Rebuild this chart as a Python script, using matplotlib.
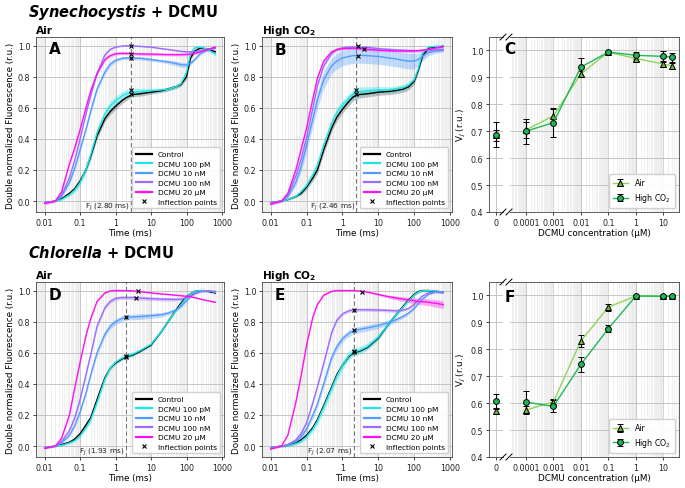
import numpy as np
import matplotlib
matplotlib.use("Agg")
import matplotlib.pyplot as plt
from matplotlib.ticker import LogLocator, FixedLocator, FixedFormatter, NullFormatter
from matplotlib.lines import Line2D

# ---------------- data ----------------
time_ms = [0.01, 0.02, 0.03, 0.05, 0.07, 0.1, 0.15, 0.2, 0.3, 0.5, 0.7, 1, 1.5, 2, 3, 5,
           10, 20, 30, 50, 70, 100, 130, 170, 250, 400, 650]

treatments = ["Control", "DCMU 100 pM", "DCMU 10 nM", "DCMU 100 nM", "DCMU 20 µM"]
colors = ["#000000", "#1fe6e6", "#559bff", "#9b6cff", "#ff10f0"]
band_colors = ["#555555", "#1fe6e6", "#559bff", "#9b6cff", "#ff10f0"]

# Synechocystis, Air (panel A)
syn_air_control = [-0.01, 0.0, 0.015, 0.05, 0.08, 0.13, 0.21, 0.29, 0.42, 0.53, 0.575, 0.61, 0.645, 0.665, 0.685, 0.69,
                   0.70, 0.71, 0.72, 0.735, 0.75, 0.80, 0.92, 0.965, 0.985, 0.975, 0.96]
syn_air_100pM = [-0.01, 0.0, 0.01, 0.04, 0.07, 0.12, 0.21, 0.30, 0.44, 0.56, 0.61, 0.645, 0.675, 0.69, 0.70, 0.705,
                 0.71, 0.715, 0.72, 0.735, 0.755, 0.83, 0.95, 0.985, 0.99, 0.975, 0.945]
syn_air_10nM = [-0.01, 0.0, 0.03, 0.12, 0.21, 0.33, 0.47, 0.58, 0.72, 0.83, 0.88, 0.905, 0.918, 0.92, 0.92, 0.918,
                0.91, 0.90, 0.895, 0.885, 0.877, 0.875, 0.885, 0.91, 0.95, 0.975, 0.985]
syn_air_100nM = [-0.01, 0.0, 0.04, 0.15, 0.26, 0.40, 0.57, 0.68, 0.82, 0.94, 0.975, 0.99, 0.997, 0.998, 0.998, 0.995,
                 0.99, 0.98, 0.975, 0.968, 0.963, 0.96, 0.96, 0.962, 0.967, 0.975, 0.985]
syn_air_20uM = [-0.015, 0.0, 0.06, 0.24, 0.34, 0.46, 0.61, 0.71, 0.82, 0.91, 0.935, 0.948, 0.95, 0.95, 0.948, 0.946,
                0.945, 0.943, 0.942, 0.942, 0.942, 0.943, 0.945, 0.95, 0.96, 0.975, 0.99]
syn_air_control_sd = [0, 0, 0.003, 0.006, 0.01, 0.012, 0.016, 0.02, 0.02, 0.02, 0.02, 0.02, 0.02, 0.018, 0.015, 0.015,
                      0.012, 0.012, 0.012, 0.012, 0.012, 0.015, 0.015, 0.01, 0.01, 0.01, 0.01]
syn_air_100pM_sd = [0, 0, 0.005, 0.01, 0.015, 0.02, 0.025, 0.03, 0.03, 0.03, 0.03, 0.03, 0.03, 0.028, 0.025, 0.02,
                    0.015, 0.012, 0.012, 0.012, 0.012, 0.015, 0.015, 0.01, 0.01, 0.01, 0.012]
syn_air_10nM_sd = [0, 0, 0.005, 0.01, 0.012, 0.015, 0.015, 0.015, 0.015, 0.015, 0.012, 0.01, 0.01, 0.01, 0.01, 0.01,
                   0.01, 0.01, 0.012, 0.015, 0.015, 0.015, 0.012, 0.01, 0.01, 0.01, 0.01]
syn_air_100nM_sd = 0.004
syn_air_20uM_sd = 0.008

# Synechocystis, High CO2 (panel B)
syn_hc_control = [-0.01, 0.0, 0.01, 0.03, 0.05, 0.09, 0.15, 0.20, 0.33, 0.47, 0.54, 0.59, 0.64, 0.67, 0.685, 0.69,
                  0.70, 0.705, 0.71, 0.72, 0.735, 0.77, 0.84, 0.93, 0.985, 0.99, 0.995]
syn_hc_100pM = [-0.01, 0.0, 0.01, 0.03, 0.06, 0.10, 0.17, 0.23, 0.36, 0.50, 0.57, 0.62, 0.66, 0.69, 0.705, 0.71,
                0.715, 0.715, 0.72, 0.73, 0.745, 0.78, 0.85, 0.95, 0.99, 0.995, 0.995]
syn_hc_10nM = [-0.01, 0.0, 0.03, 0.12, 0.22, 0.36, 0.53, 0.65, 0.78, 0.87, 0.90, 0.92, 0.93, 0.935, 0.937, 0.935,
               0.93, 0.92, 0.915, 0.905, 0.90, 0.90, 0.91, 0.93, 0.955, 0.965, 0.97]
syn_hc_100nM = [-0.01, 0.0, 0.04, 0.16, 0.27, 0.41, 0.60, 0.74, 0.87, 0.95, 0.975, 0.985, 0.99, 0.99, 0.99, 0.988,
                0.98, 0.975, 0.972, 0.97, 0.968, 0.967, 0.967, 0.968, 0.97, 0.972, 0.975]
syn_hc_20uM = [-0.02, 0.0, 0.05, 0.20, 0.33, 0.47, 0.66, 0.79, 0.90, 0.96, 0.975, 0.98, 0.982, 0.983, 0.98, 0.975,
               0.97, 0.967, 0.966, 0.965, 0.965, 0.966, 0.968, 0.97, 0.975, 0.985, 0.995]
syn_hc_control_sd = [0, 0, 0.003, 0.006, 0.01, 0.015, 0.02, 0.025, 0.025, 0.025, 0.025, 0.025, 0.025, 0.025, 0.022, 0.02,
                     0.02, 0.02, 0.02, 0.02, 0.02, 0.02, 0.02, 0.015, 0.01, 0.008, 0.008]
syn_hc_100pM_sd = [0, 0, 0.005, 0.01, 0.015, 0.02, 0.025, 0.03, 0.03, 0.03, 0.03, 0.03, 0.03, 0.03, 0.03, 0.025,
                   0.022, 0.02, 0.02, 0.02, 0.02, 0.02, 0.02, 0.015, 0.01, 0.008, 0.008]
syn_hc_10nM_sd = [0, 0, 0.01, 0.02, 0.03, 0.04, 0.05, 0.055, 0.055, 0.05, 0.05, 0.05, 0.05, 0.05, 0.05, 0.05,
                  0.05, 0.05, 0.05, 0.05, 0.05, 0.05, 0.04, 0.03, 0.02, 0.015, 0.012]
syn_hc_100nM_sd = 0.01
syn_hc_20uM_sd = 0.006

# Chlorella, Air (panel D)
chl_air_control = [-0.01, 0.0, 0.01, 0.025, 0.045, 0.08, 0.14, 0.185, 0.30, 0.44, 0.50, 0.535, 0.56, 0.575, 0.585, 0.61,
                   0.65, 0.74, 0.80, 0.875, 0.92, 0.96, 0.98, 0.995, 1.0, 0.995, 0.985]
chl_air_100pM = [-0.01, 0.0, 0.005, 0.02, 0.035, 0.065, 0.12, 0.17, 0.28, 0.43, 0.50, 0.54, 0.565, 0.578, 0.59, 0.615,
                 0.655, 0.74, 0.80, 0.87, 0.91, 0.955, 0.98, 0.995, 1.0, 0.998, 0.99]
chl_air_10nM = [-0.01, 0.0, 0.02, 0.07, 0.13, 0.22, 0.35, 0.46, 0.60, 0.72, 0.77, 0.80, 0.82, 0.828, 0.83, 0.833,
                0.838, 0.845, 0.855, 0.875, 0.90, 0.935, 0.96, 0.98, 0.995, 0.998, 0.99]
chl_air_100nM = [-0.01, 0.0, 0.03, 0.10, 0.18, 0.30, 0.47, 0.59, 0.77, 0.89, 0.93, 0.95, 0.955, 0.955, 0.955, 0.952,
                 0.948, 0.945, 0.944, 0.943, 0.945, 0.955, 0.967, 0.98, 0.993, 0.998, 0.995]
chl_air_20uM = [-0.015, 0.0, 0.05, 0.20, 0.37, 0.54, 0.72, 0.82, 0.93, 0.985, 0.997, 1.0, 1.0, 1.0, 0.998, 0.993,
                0.985, 0.978, 0.975, 0.97, 0.967, 0.963, 0.96, 0.955, 0.945, 0.935, 0.925]
chl_air_control_sd = 0.006
chl_air_100pM_sd = [0, 0, 0.003, 0.006, 0.008, 0.01, 0.012, 0.014, 0.015, 0.015, 0.015, 0.015, 0.015, 0.015, 0.015, 0.012,
                    0.01, 0.01, 0.01, 0.01, 0.01, 0.008, 0.006, 0.005, 0.005, 0.005, 0.005]
chl_air_10nM_sd = [0, 0, 0.004, 0.008, 0.01, 0.012, 0.015, 0.016, 0.018, 0.018, 0.018, 0.018, 0.018, 0.018, 0.018, 0.018,
                   0.016, 0.015, 0.012, 0.01, 0.01, 0.008, 0.006, 0.005, 0.005, 0.005, 0.005]
chl_air_100nM_sd = [0, 0, 0.004, 0.008, 0.01, 0.012, 0.012, 0.012, 0.012, 0.012, 0.012, 0.012, 0.012, 0.012, 0.012, 0.012,
                    0.012, 0.012, 0.012, 0.01, 0.008, 0.006, 0.005, 0.005, 0.004, 0.004, 0.004]
chl_air_20uM_sd = 0.003

# Chlorella, High CO2 (panel E)
chl_hc_control = [-0.01, 0.0, 0.005, 0.02, 0.04, 0.07, 0.12, 0.17, 0.26, 0.38, 0.46, 0.52, 0.575, 0.60, 0.61, 0.635,
                  0.695, 0.79, 0.84, 0.90, 0.94, 0.975, 0.993, 1.0, 1.0, 0.995, 0.99]
chl_hc_100pM = [-0.01, 0.0, 0.003, 0.015, 0.03, 0.06, 0.11, 0.16, 0.25, 0.37, 0.45, 0.52, 0.58, 0.605, 0.615, 0.64,
                0.70, 0.79, 0.84, 0.895, 0.935, 0.97, 0.99, 0.998, 1.0, 0.998, 0.99]
chl_hc_10nM = [-0.01, 0.0, 0.01, 0.03, 0.06, 0.11, 0.20, 0.27, 0.40, 0.57, 0.64, 0.69, 0.725, 0.74, 0.75, 0.76,
               0.775, 0.795, 0.81, 0.835, 0.855, 0.885, 0.915, 0.945, 0.975, 0.99, 0.985]
chl_hc_100nM = [-0.01, 0.0, 0.01, 0.04, 0.08, 0.15, 0.28, 0.38, 0.53, 0.73, 0.81, 0.85, 0.87, 0.875, 0.877, 0.877,
                0.875, 0.872, 0.87, 0.875, 0.885, 0.91, 0.94, 0.965, 0.985, 0.993, 0.99]
chl_hc_20uM = [-0.02, 0.0, 0.07, 0.28, 0.45, 0.65, 0.83, 0.91, 0.97, 0.995, 1.0, 1.0, 1.0, 1.0, 0.997, 0.99,
               0.975, 0.96, 0.953, 0.945, 0.94, 0.935, 0.93, 0.928, 0.925, 0.918, 0.91]
chl_hc_control_sd = 0.008
chl_hc_100pM_sd = [0, 0, 0.003, 0.006, 0.01, 0.014, 0.02, 0.024, 0.028, 0.03, 0.03, 0.03, 0.03, 0.028, 0.025, 0.022,
                   0.02, 0.015, 0.012, 0.01, 0.008, 0.006, 0.005, 0.005, 0.005, 0.005, 0.005]
chl_hc_10nM_sd = [0, 0, 0.004, 0.008, 0.012, 0.016, 0.02, 0.022, 0.022, 0.022, 0.022, 0.022, 0.02, 0.02, 0.02, 0.02,
                  0.018, 0.016, 0.015, 0.012, 0.01, 0.008, 0.006, 0.005, 0.005, 0.005, 0.005]
chl_hc_100nM_sd = [0, 0, 0.003, 0.006, 0.008, 0.01, 0.01, 0.01, 0.01, 0.01, 0.01, 0.01, 0.01, 0.01, 0.01, 0.01,
                   0.01, 0.01, 0.01, 0.008, 0.006, 0.005, 0.005, 0.005, 0.004, 0.004, 0.004]
chl_hc_20uM_sd = [0, 0, 0.002, 0.003, 0.003, 0.003, 0.003, 0.003, 0.003, 0.003, 0.003, 0.003, 0.003, 0.003, 0.003, 0.004,
                  0.006, 0.01, 0.012, 0.015, 0.017, 0.018, 0.02, 0.02, 0.022, 0.024, 0.025]

# J-step time and inflection points
syn_air_fj, syn_hc_fj, chl_air_fj, chl_hc_fj = 2.80, 2.46, 1.93, 2.07
syn_air_inf_t = [2.8, 2.8, 2.8, 2.7, 2.7]
syn_air_inf_v = [0.688, 0.712, 0.918, 0.998, 0.946]
syn_hc_inf_t = [2.46, 2.46, 2.8, 2.7, 3.9]
syn_hc_inf_v = [0.69, 0.715, 0.935, 0.995, 0.978]
chl_air_inf_t = [1.93, 1.93, 1.93, 3.8, 4.3]
chl_air_inf_v = [0.575, 0.578, 0.828, 0.955, 0.994]
chl_hc_inf_t = [2.07, 2.07, 2.07, 2.07, 3.5]
chl_hc_inf_v = [0.605, 0.61, 0.745, 0.877, 0.992]

# V_J vs DCMU concentration (first value = 0 µM)
conc_uM = [0, 0.0001, 0.001, 0.01, 0.1, 1, 10, 20]
conc_ticks = [0.0001, 0.001, 0.01, 0.1, 1, 10]
conc_ticklabels = ["0.0001", "0.001", "0.01", "0.1", "1", "10"]
syn_vj_air = [0.685, 0.705, 0.757, 0.913, 0.994, 0.970, 0.950, 0.943]
syn_vj_air_err = [0.02, 0.03, 0.025, 0.012, 0.005, 0.01, 0.01, 0.012]
syn_vj_hc = [0.687, 0.700, 0.732, 0.938, 0.994, 0.982, 0.978, 0.975]
syn_vj_hc_err = [0.047, 0.047, 0.055, 0.033, 0.005, 0.012, 0.02, 0.016]
chl_vj_air = [0.570, 0.574, 0.605, 0.831, 0.957, 0.998, 0.997, 0.997]
chl_vj_air_err = [0.01, 0.015, 0.012, 0.022, 0.013, 0.004, 0.004, 0.004]
chl_vj_hc = [0.608, 0.604, 0.588, 0.744, 0.877, 0.998, 0.997, 0.997]
chl_vj_hc_err = [0.025, 0.04, 0.022, 0.028, 0.014, 0.004, 0.004, 0.004]

# ---------------- styling ----------------
W, H = 685, 489
TICK_FS = 5.8
LABEL_FS = 6.3
LEG_FS = 5.3
TITLE_FS = 7.6
SUP_FS = 10.5
LET_FS = 11
AIR_C = "#8fd45a"
HC_C = "#1db954"
MINOR_C = "#e3e3e3"

fig = plt.figure(figsize=(W / 100, H / 100), dpi=100)


def rect(l, t, r, b):
    return [l / W, 1 - b / H, (r - l) / W, (b - t) / H]


def style_axes(ax):
    for s in ax.spines.values():
        s.set_color("#444444")
        s.set_linewidth(0.6)
    ax.tick_params(labelsize=TICK_FS, length=2.5, width=0.6, pad=1.5, colors="#222222")
    ax.tick_params(which="minor", length=0)
    ax.set_axisbelow(True)


def kinetics(ax, curves, sds, fj, inf_t, inf_v, title):
    t = np.array(time_ms)
    for y, sd, c, bc, lab in zip(curves, sds, colors, band_colors, treatments):
        y = np.array(y, dtype=float)
        sd = np.broadcast_to(np.array(sd, dtype=float), y.shape)
        ax.fill_between(t, y - sd, y + sd, color=bc, alpha=0.35, lw=0)
        ax.plot(t, y, color=c, lw=1.0, label=lab)
    ax.axvline(fj, color="#777777", ls="--", lw=0.8, dashes=(4, 2.5))
    ax.plot(inf_t, inf_v, ls="none", marker="x", color="k", ms=3.5, mew=0.8,
            label="Inflection points", zorder=5)
    ax.set_xscale("log")
    ax.set_xlim(0.0057, 1140)
    ax.set_ylim(-0.07, 1.055)
    ax.xaxis.set_major_locator(FixedLocator([0.01, 0.1, 1, 10, 100, 1000]))
    ax.xaxis.set_major_formatter(FixedFormatter(["0.01", "0.1", "1", "10", "100", "1000"]))
    ax.xaxis.set_minor_locator(LogLocator(base=10, subs=np.arange(1.5, 10, 0.5), numticks=200))
    ax.xaxis.set_minor_formatter(NullFormatter())
    ax.set_yticks([0.0, 0.2, 0.4, 0.6, 0.8, 1.0])
    ax.set_yticklabels(["0.0", "0.2", "0.4", "0.6", "0.8", "1.0"])
    ax.grid(True, which="major", color="#bdbdbd", lw=0.6)
    ax.grid(True, which="minor", axis="x", color=MINOR_C, lw=0.4)
    style_axes(ax)
    ax.set_xlabel("Time (ms)", fontsize=LABEL_FS, labelpad=1)
    ax.set_ylabel("Double normalized Fluorescence (r.u.)", fontsize=LABEL_FS, labelpad=2)
    ax.set_title(title, loc="left", fontsize=TITLE_FS, fontweight="bold", pad=3)
    ax.text(fj * 0.9, -0.035, r"F$_J$ (%.2f ms)" % fj, ha="right", va="center",
            fontsize=LEG_FS, color="#222222")
    leg = ax.legend(loc="lower right", fontsize=LEG_FS, handlelength=2.2, borderpad=0.5,
                    labelspacing=0.45, framealpha=0.9, edgecolor="#cccccc", fancybox=True)
    for h in leg.get_lines():
        if h.get_marker() in (None, "None", ""):
            h.set_linewidth(1.6)


def vj_panel(ax0, ax1, air, air_err, hc, hc_err):
    for ax in (ax0, ax1):
        ax.set_ylim(0.4, 1.05)
        ax.set_yticks([0.4, 0.5, 0.6, 0.7, 0.8, 0.9, 1.0])
        ax.grid(True, which="major", color="#bdbdbd", lw=0.6)
        style_axes(ax)
    ekw = dict(ecolor="k", elinewidth=0.8, capsize=2, capthick=0.8)
    # zero concentration
    ax0.errorbar([conc_uM[0]], [air[0]], yerr=[air_err[0]], color=AIR_C, marker="^", ms=4,
                 mfc="#6fae3c", mec="k", mew=0.7, ls="none", **ekw)
    ax0.errorbar([conc_uM[0]], [hc[0]], yerr=[hc_err[0]], color=HC_C, marker="o", ms=4.2,
                 mfc=HC_C, mec="k", mew=0.7, ls="none", **ekw)
    ax0.set_xlim(-1, 1)
    ax0.set_xticks([0])
    ax0.set_xticklabels(["0"])
    ax0.set_yticklabels(["0.4", "0.5", "0.6", "0.7", "0.8", "0.9", "1.0"])
    ax0.grid(True, axis="x", color="#bdbdbd", lw=0.6)
    ax0.spines["right"].set_visible(False)
    ax0.set_ylabel(r"V$_J$ (r.u.)", fontsize=LABEL_FS, labelpad=2)
    # non-zero concentrations
    ax1.errorbar(conc_uM[1:], air[1:], yerr=air_err[1:], color=AIR_C, lw=1.0, marker="^", ms=4,
                 mfc="#6fae3c", mec="k", mew=0.7, label="Air", **ekw)
    ax1.errorbar(conc_uM[1:], hc[1:], yerr=hc_err[1:], color=HC_C, lw=1.0, marker="o", ms=4.2,
                 mfc=HC_C, mec="k", mew=0.7, label=r"High CO$_2$", **ekw)
    ax1.set_xscale("log")
    ax1.set_xlim(10 ** -4.58, 10 ** 1.57)
    ax1.xaxis.set_major_locator(FixedLocator(conc_ticks))
    ax1.xaxis.set_major_formatter(FixedFormatter(conc_ticklabels))
    ax1.xaxis.set_minor_locator(LogLocator(base=10, subs=np.arange(1.5, 10, 0.5), numticks=200))
    ax1.xaxis.set_minor_formatter(NullFormatter())
    ax1.grid(True, which="minor", axis="x", color=MINOR_C, lw=0.4)
    ax1.spines["left"].set_visible(False)
    ax1.tick_params(axis="y", left=False, labelleft=False)
    ax1.set_xlabel("DCMU concentration (µM)", fontsize=LABEL_FS, labelpad=1)
    ax1.legend(loc="lower right", fontsize=LEG_FS + 0.3, handlelength=2.0, borderpad=0.5,
               labelspacing=0.5, framealpha=0.9, edgecolor="#cccccc")


def break_marks(xs, ys):
    for x in xs:
        for y in ys:
            fig.add_artist(Line2D([(x - 3) / W, (x + 3) / W], [1 - (y + 3) / H, 1 - (y - 3) / H],
                                  transform=fig.transFigure, color="k", lw=0.7, clip_on=False))


# ---------------- layout ----------------
top_row = (38, 213)
bot_row = (283, 458)

axA = fig.add_axes(rect(36, top_row[0], 224, top_row[1]))
axB = fig.add_axes(rect(262, top_row[0], 452, top_row[1]))
axC0 = fig.add_axes(rect(489, top_row[0], 503, top_row[1]))
axC1 = fig.add_axes(rect(510, top_row[0], 679, top_row[1]))
axD = fig.add_axes(rect(36, bot_row[0], 224, bot_row[1]))
axE = fig.add_axes(rect(262, bot_row[0], 452, bot_row[1]))
axF0 = fig.add_axes(rect(489, bot_row[0], 503, bot_row[1]))
axF1 = fig.add_axes(rect(510, bot_row[0], 679, bot_row[1]))

kinetics(axA, [syn_air_control, syn_air_100pM, syn_air_10nM, syn_air_100nM, syn_air_20uM],
         [syn_air_control_sd, syn_air_100pM_sd, syn_air_10nM_sd, syn_air_100nM_sd, syn_air_20uM_sd],
         syn_air_fj, syn_air_inf_t, syn_air_inf_v, "Air")
kinetics(axB, [syn_hc_control, syn_hc_100pM, syn_hc_10nM, syn_hc_100nM, syn_hc_20uM],
         [syn_hc_control_sd, syn_hc_100pM_sd, syn_hc_10nM_sd, syn_hc_100nM_sd, syn_hc_20uM_sd],
         syn_hc_fj, syn_hc_inf_t, syn_hc_inf_v, r"High CO$_\mathbf{2}$")
kinetics(axD, [chl_air_control, chl_air_100pM, chl_air_10nM, chl_air_100nM, chl_air_20uM],
         [chl_air_control_sd, chl_air_100pM_sd, chl_air_10nM_sd, chl_air_100nM_sd, chl_air_20uM_sd],
         chl_air_fj, chl_air_inf_t, chl_air_inf_v, "Air")
kinetics(axE, [chl_hc_control, chl_hc_100pM, chl_hc_10nM, chl_hc_100nM, chl_hc_20uM],
         [chl_hc_control_sd, chl_hc_100pM_sd, chl_hc_10nM_sd, chl_hc_100nM_sd, chl_hc_20uM_sd],
         chl_hc_fj, chl_hc_inf_t, chl_hc_inf_v, r"High CO$_\mathbf{2}$")
vj_panel(axC0, axC1, syn_vj_air, syn_vj_air_err, syn_vj_hc, syn_vj_hc_err)
vj_panel(axF0, axF1, chl_vj_air, chl_vj_air_err, chl_vj_hc, chl_vj_hc_err)

break_marks([503, 509], [top_row[0], top_row[1]])
break_marks([503, 509], [bot_row[0], bot_row[1]])

# panel letters
for lx, ly, s in [(49, 50, "A"), (275, 51, "B"), (504, 50, "C"),
                  (49, 296, "D"), (275, 296, "E"), (505, 297, "F")]:
    fig.text(lx / W, 1 - ly / H, s, fontsize=LET_FS, fontweight="bold", ha="left", va="center")

# row headings
fig.text(28 / W, 1 - 12 / H, r"$\mathbfit{Synechocystis}$ + DCMU", fontsize=SUP_FS,
         fontweight="bold", ha="left", va="center")
fig.text(28 / W, 1 - 253 / H, r"$\mathbfit{Chlorella}$ + DCMU", fontsize=SUP_FS,
         fontweight="bold", ha="left", va="center")

fig.savefig("out.png", dpi=100)
